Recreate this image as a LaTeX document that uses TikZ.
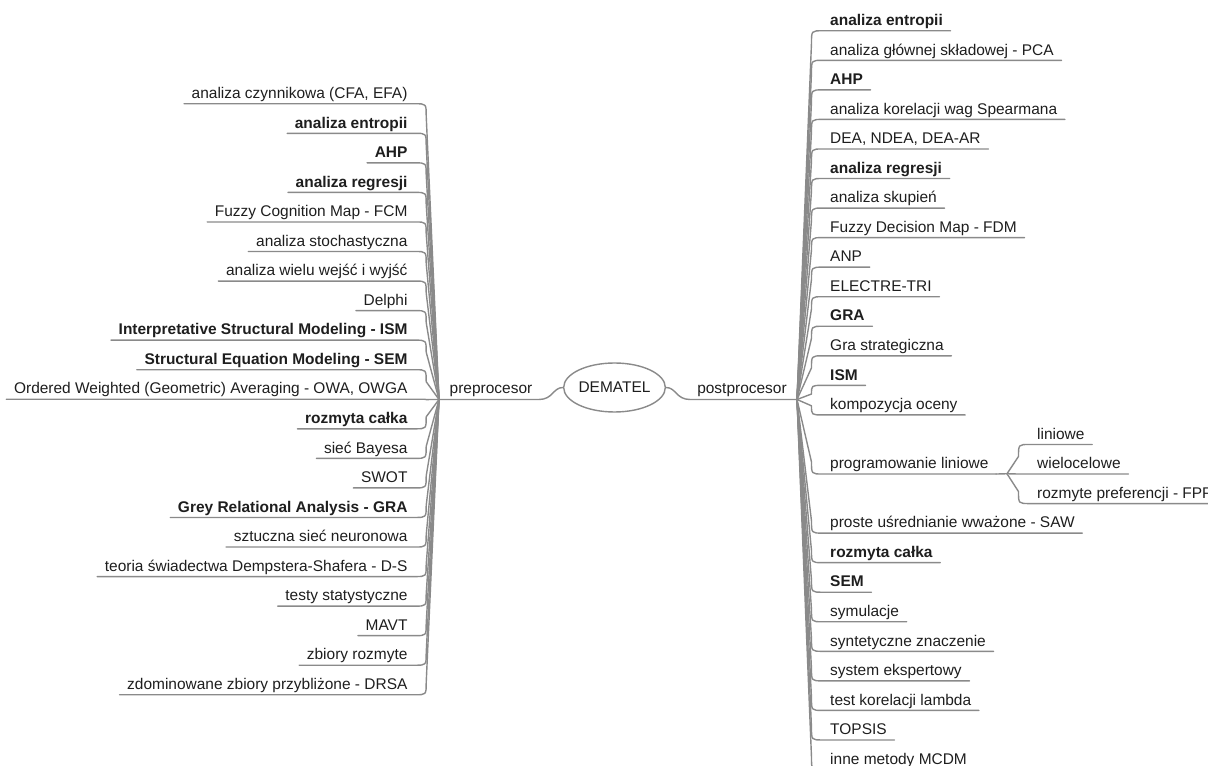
\documentclass[tikz,border=0pt]{standalone}
\usepackage{fontspec}
\setmainfont{Liberation Sans}
\usetikzlibrary{calc,shapes.geometric}
\definecolor{linegray}{HTML}{8A8A8A}
\definecolor{inkgray}{HTML}{1E1E1E}
\newcommand\mapfont{\fontsize{11.6pt}{13.8pt}\selectfont}
\tikzset{
  branch/.style={draw=linegray, line width=1.05pt, line join=round, line cap=round},
  leaf/.style={inner xsep=5.6pt, inner ysep=0pt, text depth=3.75pt, text=inkgray},
  leafR/.style={leaf, anchor=base west},
  leafL/.style={leaf, anchor=base east},
  txtn/.style={font=\mapfont},
  txtb/.style={font=\mapfont\bfseries},
  hub/.style={ellipse, draw=linegray, line width=1.05pt, fill=white,
    minimum width=71.25pt, minimum height=36.75pt, inner sep=0pt,
    font=\mapfont, text=inkgray},
  lbl/.style={anchor=base, inner sep=0pt, font=\mapfont, text=inkgray},
}
\begin{document}
\begin{tikzpicture}[x=0.75pt, y=-0.75pt]
\useasboundingbox (0,0) rectangle (1208,766);
\clip (0,0) rectangle (1208,766);

% junctions of the three branch bundles
\coordinate (jl) at (439,399.5);
\coordinate (jr) at (797,399.5);
\coordinate (js) at (1007,473.75);

% central topic and its two main branches
\node[hub] (dem) at (614.5,387.5) {DEMATEL};
\node[lbl] (pre) at (491,394) {preprocesor};
\node[lbl] (post) at (742,394) {postprocesor};
\draw[branch] (dem.west) .. controls ($(dem.west)+(-10,0)$) and ($(dem.west)+(-10,12)$) .. ($(dem.west)+(-24,12)$) -- (jl);
\draw[branch] (dem.east) .. controls ($(dem.east)+(10,0)$) and ($(dem.east)+(10,12)$) .. ($(dem.east)+(24,12)$) -- (jr);

% preprocessor methods (left side)
\foreach \i/\st/\txt in {
  1/txtn/{analiza czynnikowa (CFA, EFA)},
  2/txtb/{analiza entropii},
  3/txtb/{AHP},
  4/txtb/{analiza regresji},
  5/txtn/{Fuzzy Cognition Map - FCM},
  6/txtn/{analiza stochastyczna},
  7/txtn/{analiza wielu wejść i wyjść},
  8/txtn/{Delphi},
  9/txtb/{Interpretative Structural Modeling - ISM},
  10/txtb/{Structural Equation Modeling - SEM},
  11/txtn/{Ordered Weighted (Geometric) Averaging - OWA, OWGA},
  12/txtb/{rozmyta całka},
  13/txtn/{sieć Bayesa},
  14/txtn/{SWOT},
  15/txtb/{Grey Relational Analysis - GRA},
  16/txtn/{sztuczna sieć neuronowa},
  17/txtn/{teoria świadectwa Dempstera-Shafera - D-S},
  18/txtn/{testy statystyczne\ },
  19/txtn/{MAVT},
  20/txtn/{zbiory rozmyte},
  21/txtn/{zdominowane zbiory przybliżone - DRSA}}{
  \pgfmathsetmacro{\yb}{98.5+(\i-1)*29.55}
  \pgfmathsetmacro{\dd}{399.5-(\yb+5)}
  \pgfmathsetmacro{\rr}{sign(\dd)*min(12,0.6*abs(\dd))}
  \node[leafL,\st] (L\i) at (415.2,\yb) {\txt};
  \draw[branch] (jl) -- ($(L\i.south east)+(11,\rr)$)
    .. controls ($(L\i.south east)+(11,0)$) .. (L\i.south east) -- (L\i.south west);
}

% postprocessor methods (right side)
\foreach \i/\st/\txt in {
  1/txtb/{analiza entropii},
  2/txtn/{analiza głównej składowej - PCA},
  3/txtb/{AHP},
  4/txtn/{analiza korelacji wag Spearmana},
  5/txtn/{DEA, NDEA, DEA-AR},
  6/txtb/{analiza regresji},
  7/txtn/{analiza skupień},
  8/txtn/{Fuzzy Decision Map - FDM},
  9/txtn/{ANP},
  10/txtn/{ELECTRE-TRI},
  11/txtb/{GRA},
  12/txtn/{Gra strategiczna},
  13/txtb/{ISM},
  14/txtn/{kompozycja oceny},
  16/txtn/{programowanie liniowe},
  18/txtn/{proste uśrednianie wważone - SAW},
  19/txtb/{rozmyta całka},
  20/txtb/{SEM},
  21/txtn/{symulacje},
  22/txtn/{syntetyczne znaczenie},
  23/txtn/{system ekspertowy},
  24/txtn/{test korelacji lambda},
  25/txtn/{TOPSIS},
  26/txtn/{inne metody MCDM}}{
  \pgfmathsetmacro{\yb}{25.5+(\i-1)*29.55}
  \pgfmathsetmacro{\dd}{399.5-(\yb+5)}
  \pgfmathsetmacro{\rr}{sign(\dd)*min(12,0.6*abs(\dd))}
  \node[leafR,\st] (R\i) at (822.5,\yb) {\txt};
  \draw[branch] (jr) -- ($(R\i.south west)+(-11,\rr)$)
    .. controls ($(R\i.south west)+(-11,0)$) .. (R\i.south west) -- (R\i.south east);
}
\draw[branch] (R16.south east) -- (js);

% kinds of linear programming
\foreach \i/\txt in {15/{liniowe}, 16/{wielocelowe}, 17/{rozmyte preferencji - FPP}}{
  \pgfmathsetmacro{\yb}{25.5+(\i-1)*29.55}
  \pgfmathsetmacro{\dd}{473.75-(\yb+5)}
  \pgfmathsetmacro{\rr}{sign(\dd)*min(12,0.6*abs(\dd))}
  \node[leafR,txtn] (S\i) at (1029.5,\yb) {\txt};
  \draw[branch] (js) -- ($(S\i.south west)+(-11,\rr)$)
    .. controls ($(S\i.south west)+(-11,0)$) .. (S\i.south west) -- (S\i.south east);
}
\end{tikzpicture}
\end{document}
